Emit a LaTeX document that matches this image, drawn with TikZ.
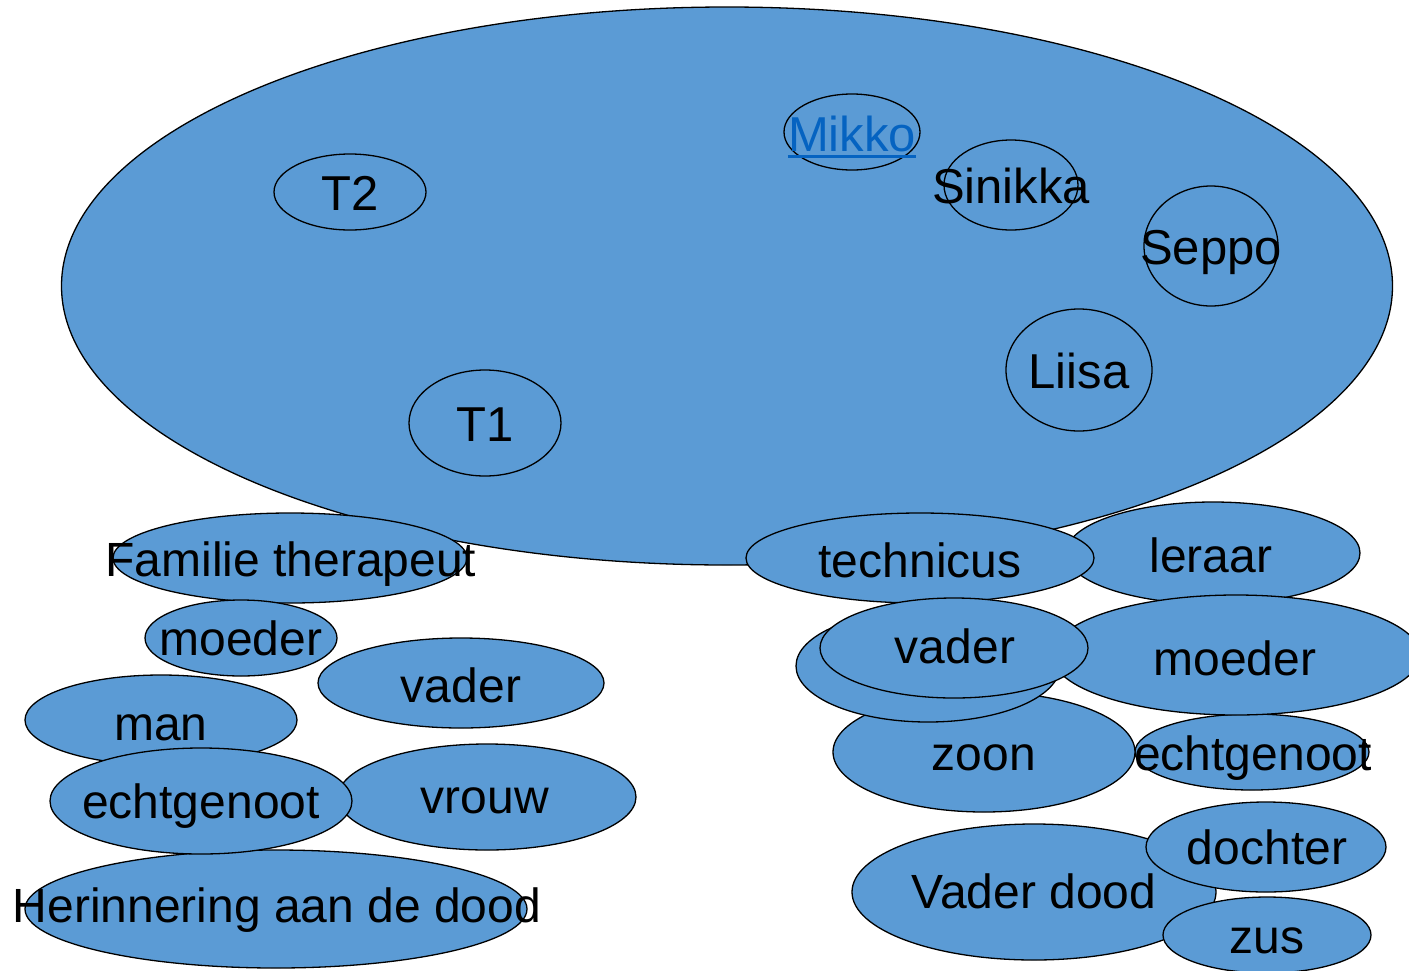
\documentclass[tikz,border=0pt]{standalone}
\usepackage{fontspec}
\setmainfont{Liberation Sans}
\usetikzlibrary{shapes.geometric}
\definecolor{blobblue}{RGB}{91,155,213}
\definecolor{linkblue}{RGB}{5,99,193}
\tikzset{
  blob/.style={ellipse, draw=black, line width=1.3pt, fill=blobblue, inner sep=0pt},
  lbl/.style={inner sep=0pt, anchor=base, text=black},
  big/.style={font=\fontsize{49}{51}\selectfont},
  mid/.style={font=\fontsize{48}{50}\selectfont},
}
\begin{document}
\begin{tikzpicture}[x=1pt,y=-1pt]
\useasboundingbox (0,0) rectangle (1409,970);
\clip (0,0) rectangle (1409,970);

% main ellipse
\node[blob, minimum width=1331, minimum height=558] (main) at (727,286) {};

\node[blob, minimum width=152, minimum height=76] (t2) at (350,192) {};
\node[lbl, big] (t2t) at (350,210) {T2};

\node[blob, minimum width=136, minimum height=76] (mk) at (852,132) {};
\node[lbl, big, text=linkblue] (mkt) at (852,151) {Mikko};
\draw[linkblue, line width=3pt] ([yshift=-5pt]mkt.base west) -- ([yshift=-5pt]mkt.base east);

\node[blob, minimum width=134, minimum height=90] (sn) at (1011,185) {};
\node[lbl, big] (snt) at (1011,203) {Sinikka};

\node[blob, minimum width=134, minimum height=120] (sp) at (1211,246) {};
\node[lbl, big] (spt) at (1211,264) {Seppo};

\node[blob, minimum width=146, minimum height=122] (li) at (1079,370) {};
\node[lbl, big] (lit) at (1079,388) {Liisa};

\node[blob, minimum width=152, minimum height=106] (t1) at (485,423) {};
\node[lbl, big] (t1t) at (485,441) {T1};

% left group
\node[blob, minimum width=354, minimum height=90] (ft) at (290,558) {};
\node[lbl, mid] (ftt) at (291,576) {Familie therapeut};

\node[blob, minimum width=192, minimum height=76] (mo1) at (241,638) {};
\node[lbl, mid] (mo1t) at (241,655) {moeder};

\node[blob, minimum width=286, minimum height=90] (va1) at (461,683) {};
\node[lbl, mid] (va1t) at (461,702) {vader};

\node[blob, minimum width=272, minimum height=90] (man) at (161,720) {};
\node[lbl, mid] (mant) at (161,740) {man};

\node[blob, minimum width=298, minimum height=106] (vr) at (487,797) {};
\node[lbl, mid] (vrt) at (485,813) {vrouw};

\node[blob, minimum width=502, minimum height=118] (her) at (276,909) {};
\node[lbl, mid] (hert) at (277,922) {Herinnering aan de dood};

\node[blob, minimum width=302, minimum height=106] (ec1) at (201,801) {};
\node[lbl, mid] (ec1t) at (201,818) {echtgenoot};

% right group
\node[blob, minimum width=294, minimum height=102] (le) at (1213,553) {};
\node[lbl, mid] (let) at (1211,572) {leraar};

\node[blob, minimum width=348, minimum height=90] (te) at (920,558) {};
\node[lbl, mid] (tet) at (920,577) {technicus};

\node[blob, minimum width=234, minimum height=76] (ec2) at (1252,752) {};
\node[blob, minimum width=368, minimum height=120] (mo2) at (1236,655) {};
\node[lbl, mid] (mo2t) at (1235,675) {moeder};
\node[lbl, mid] (ec2t) at (1253,770) {echtgenoot};

\node[blob, minimum width=302, minimum height=120] (zo) at (984,752) {};
\node[lbl, mid] (zot) at (984,770) {zoon};

\node[blob, minimum width=264, minimum height=112] (vb) at (928,666) {};
\node[blob, minimum width=268, minimum height=100] (va2) at (954,648) {};
\node[lbl, mid] (va2t) at (955,663) {vader};

\node[blob, minimum width=364, minimum height=136] (vd) at (1034,892) {};
\node[lbl, mid] (vdt) at (1034,908) {Vader dood};

\node[blob, minimum width=240, minimum height=90] (do) at (1266,847) {};
\node[lbl, mid] (dot) at (1267,864) {dochter};

\node[blob, minimum width=208, minimum height=76] (zu) at (1267,935) {};
\node[lbl, mid] (zut) at (1267,953) {zus};
\end{tikzpicture}
\end{document}
